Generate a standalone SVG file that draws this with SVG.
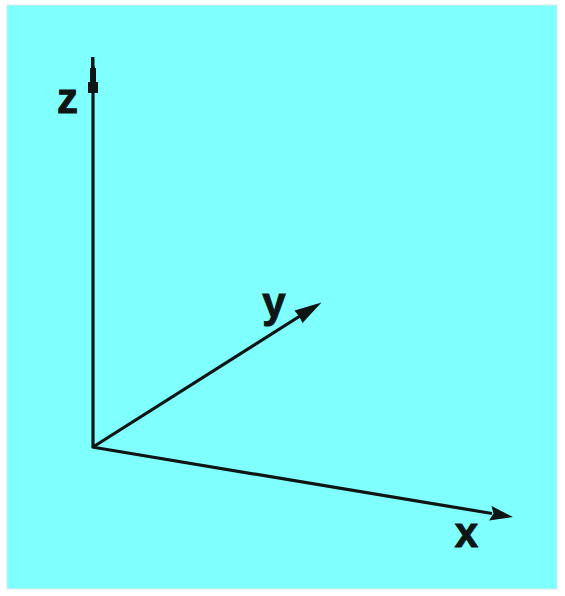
<svg xmlns="http://www.w3.org/2000/svg" width="565" height="596" viewBox="0 0 565 596">
  <style>
    .axis { stroke: #0d1515; stroke-width: 3.2; fill: none; stroke-linecap: butt; }
    .head { fill: #0d1515; stroke: none; }
    .lbl { font-family: "Liberation Sans", Arial, sans-serif; font-weight: bold; font-size: 42px; fill: #0d1515; stroke: #0d1515; stroke-width: 1; text-anchor: middle; }
  </style>
  <rect x="0" y="0" width="565" height="596" fill="#ffffff"/>
  <rect x="7" y="5" width="550" height="584" fill="#80ffff" stroke="#d8e8e8" stroke-width="1"/>
  <g id="connectors">
    <line class="axis" x1="93" y1="448" x2="93" y2="66"/>
    <line class="axis" x1="93" y1="447" x2="300" y2="316"/>
    <line class="axis" x1="92" y1="447" x2="492" y2="513.5"/>
    <polygon class="head" points="91,57 94.5,57 94.5,68 96,68 96,82 98,82 98,93 88,93 88,82 90,82 90,68 91,68"/>
    <polygon class="head" points="321.5,302.5 302.5,323 299.5,317 294.5,310.5"/>
    <polygon class="head" points="513,517 489,520.5 493.5,513.6 491.5,506"/>
  </g>
  <g id="label-z"><text class="lbl" x="67.5" y="113">z</text></g>
  <g id="label-y"><text class="lbl" x="274" y="317">y</text></g>
  <g id="label-x"><text class="lbl" x="466.5" y="547">x</text></g>
</svg>
